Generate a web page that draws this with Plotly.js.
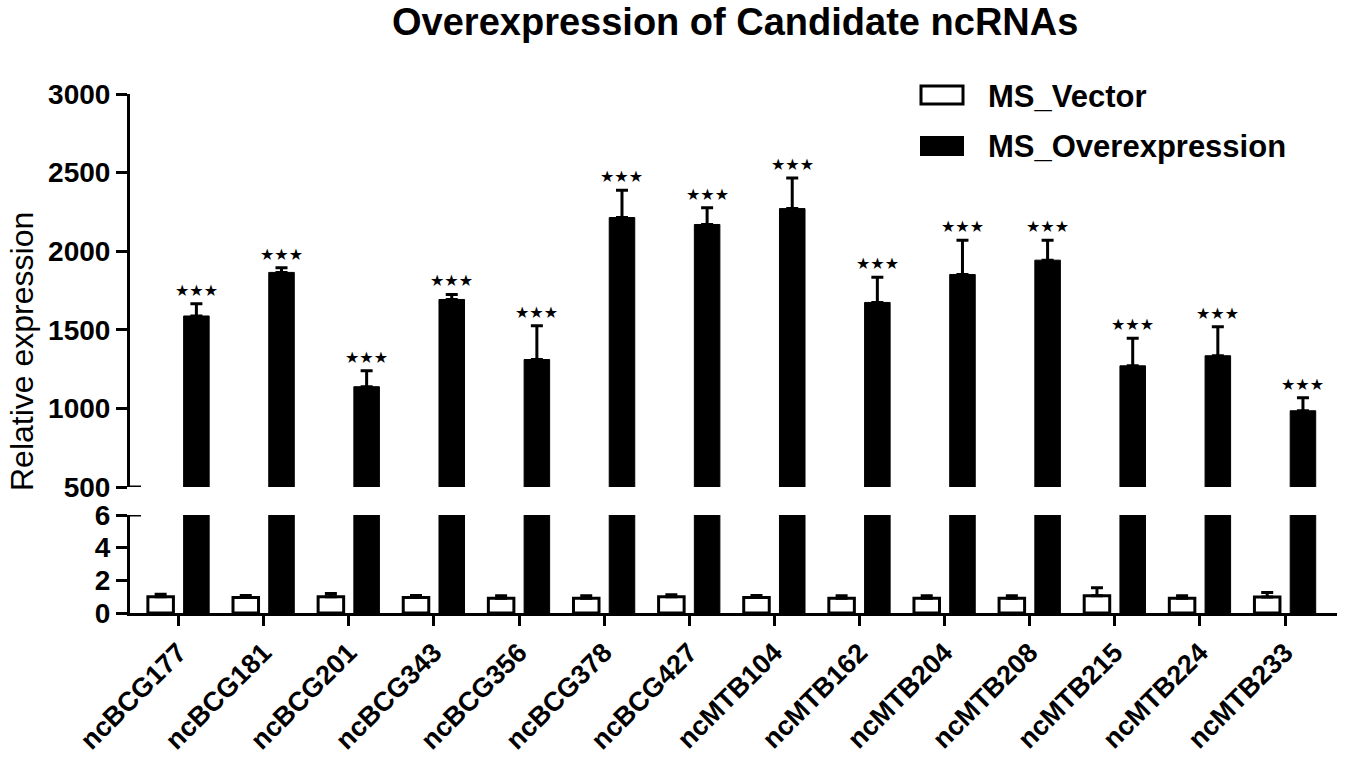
<!DOCTYPE html>
<html>
<head>
<meta charset="utf-8">
<script src="https://cdn.plot.ly/plotly-3.0.1.min.js"></script>
<style>
  html, body { margin: 0; padding: 0; background: #fff; }
  #chart { width: 1349px; height: 760px; }
</style>
</head>
<body>
<div id="chart"></div>
<script>
/* Overexpression of candidate ncRNAs -- broken y axis (0-6 / 500-3000) */

const categories = ['ncBCG177', 'ncBCG181', 'ncBCG201', 'ncBCG343', 'ncBCG356', 'ncBCG378', 'ncBCG427',
                    'ncMTB104', 'ncMTB162', 'ncMTB204', 'ncMTB208', 'ncMTB215', 'ncMTB224', 'ncMTB233'];

const vectorMean = [1.0, 0.95, 1.0, 0.95, 0.9, 0.9, 1.0, 0.95, 0.9, 0.9, 0.9, 1.05, 0.9, 0.98];
const vectorErr  = [0.15, 0.12, 0.2, 0.12, 0.15, 0.15, 0.12, 0.12, 0.15, 0.15, 0.15, 0.5, 0.15, 0.28];

const overMean = [1588, 1865, 1138, 1693, 1311, 2214, 2170, 2271, 1674, 1852, 1943, 1271, 1335, 985];
const overErr  = [78, 30, 102, 32, 214, 174, 106, 195, 161, 218, 127, 176, 184, 83];

const signif = categories.map(() => '★★★');

const seriesNames = ['MS_Vector', 'MS_Overexpression'];

// ---- layout helpers (pixels -> paper) ----
const W = 1349, H = 760;
const M = { l: 130, r: 12, t: 94, b: 147 };
const plotW = W - M.l - M.r;
const plotH = H - M.t - M.b;
const px = (x) => (x - M.l) / plotW;
const py = (y) => (H - M.b - y) / plotH;

const FONT = '"Liberation Sans", Arial, sans-serif';
const zeros = categories.map(() => 0);

function barPair(yaxis, withErrVector, withErrOver) {
  return [
    {
      type: 'bar', name: seriesNames[0], x: categories, y: vectorMean, yaxis: yaxis,
      marker: { color: '#ffffff', line: { color: '#000', width: 3 } },
      error_y: withErrVector ? { type: 'data', symmetric: false, array: vectorErr, arrayminus: zeros,
                                 color: '#000', thickness: 3, width: 6 } : { visible: false },
      showlegend: false, hoverinfo: 'x+y',
    },
    {
      type: 'bar', name: seriesNames[1], x: categories, y: overMean, yaxis: yaxis,
      marker: { color: '#000000', line: { color: '#000', width: 1 } },
      error_y: withErrOver ? { type: 'data', symmetric: false, array: overErr, arrayminus: zeros,
                               color: '#000', thickness: 3, width: 6 } : { visible: false },
      showlegend: false, hoverinfo: 'x+y',
    },
  ];
}

const traces = [
  ...barPair('y', true, false),
  ...barPair('y2', false, true),
];

// ---- significance stars above the overexpression error caps ----
const starNotes = categories.map((c, i) => ({
  xref: 'x', yref: 'y2',
  x: i + 0.21, y: overMean[i] + overErr[i],
  text: signif[i], showarrow: false,
  xanchor: 'center', yanchor: 'bottom', yshift: 2,
  font: { family: '"DejaVu Sans", sans-serif', size: 16, color: '#000' },
}));

// ---- hand-drawn legend (wide boxes like the original) ----
const legendShapes = [
  { type: 'rect', xref: 'paper', yref: 'paper', x0: px(921), x1: px(963), y0: py(104), y1: py(86),
    line: { color: '#000', width: 3 }, fillcolor: '#fff' },
  { type: 'rect', xref: 'paper', yref: 'paper', x0: px(921), x1: px(963), y0: py(155), y1: py(137),
    line: { color: '#000', width: 2 }, fillcolor: '#000' },
];
const legendNotes = seriesNames.map((n, i) => ({
  xref: 'paper', yref: 'paper', x: px(986), y: py(i === 0 ? 96 : 146),
  xanchor: 'left', yanchor: 'middle', showarrow: false, text: '<b>' + n + '</b>',
  font: { family: FONT, size: 31, color: '#000' },
}));

// ---- axis break marks ----
const breakShapes = [
  { type: 'line', xref: 'paper', yref: 'y2', x0: 0, x1: 11 / plotW, y0: 500, y1: 500, line: { color: '#000', width: 3 } },
  { type: 'line', xref: 'paper', yref: 'y',  x0: 0, x1: 11 / plotW, y0: 6, y1: 6, line: { color: '#000', width: 3 } },
];

const yAxisCommon = {
  showline: true, linecolor: '#000', linewidth: 3,
  ticks: 'outside', ticklen: 11, tickwidth: 3, tickcolor: '#000',
  showgrid: false, zeroline: false,
  tickfont: { family: FONT, size: 28, color: '#000', weight: 'bold' },
  fixedrange: true,
};

const lowerDomainTop = (H - M.b - 515) / plotH;
const upperDomainBottom = (H - M.b - 487) / plotH;

const layout = {
  width: W, height: H,
  margin: M,
  paper_bgcolor: '#fff', plot_bgcolor: '#fff',
  font: { family: FONT, color: '#000' },
  title: {
    text: '<b>Overexpression of Candidate ncRNAs</b>',
    xref: 'container', yref: 'container', x: 0.545, y: 1 - 22 / H,
    xanchor: 'center', yanchor: 'middle',
    font: { family: FONT, size: 38, color: '#000' },
  },
  barmode: 'group', bargap: 0.16, bargroupgap: 0.286,
  showlegend: false,
  xaxis: {
    type: 'category', range: [-0.57, 13.61],
    showline: true, linecolor: '#000', linewidth: 3,
    ticks: 'outside', ticklen: 10, tickwidth: 3, tickcolor: '#000',
    tickangle: -45,
    tickfont: { family: FONT, size: 27, color: '#000', weight: 'bold' },
    showgrid: false, zeroline: false, fixedrange: true,
    anchor: 'y',
  },
  yaxis: {
    ...yAxisCommon,
    domain: [0, lowerDomainTop],
    range: [0, 6], tickvals: [0, 2, 4, 6],
    anchor: 'x',
  },
  yaxis2: {
    ...yAxisCommon,
    domain: [upperDomainBottom, 1],
    range: [500, 3000], tickvals: [500, 1000, 1500, 2000, 2500, 3000],
    anchor: 'x',
  },
  annotations: [
    ...starNotes,
    ...legendNotes,
    {
      xref: 'paper', yref: 'paper', x: px(22), y: py(352),
      text: 'Relative expression', textangle: -90, showarrow: false,
      xanchor: 'center', yanchor: 'middle',
      font: { family: FONT, size: 32, color: '#000' },
    },
  ],
  shapes: [...legendShapes, ...breakShapes],
};

Plotly.newPlot('chart', traces, layout, { displayModeBar: false, staticPlot: true });
</script>
</body>
</html>
